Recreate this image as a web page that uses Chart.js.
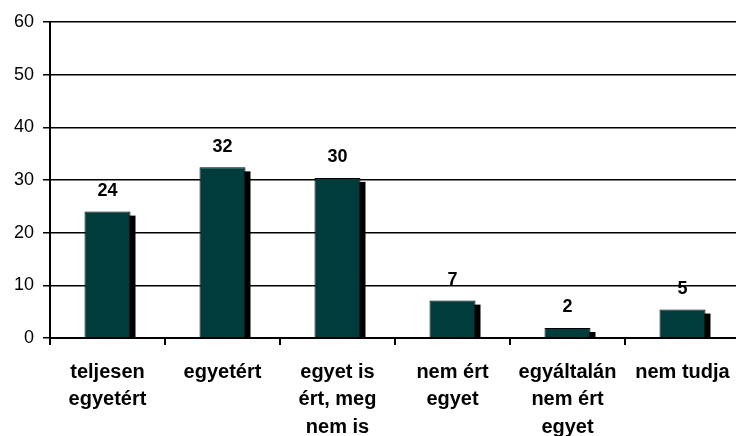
<!DOCTYPE html>
<html>
<head>
<meta charset="utf-8">
<script src="https://cdn.jsdelivr.net/npm/chart.js@4/dist/chart.umd.min.js"></script>
<style>
html,body{margin:0;padding:0;background:#fff;overflow:hidden;width:736px;height:436px;}
#wrap{position:absolute;left:0;top:0;width:750px;height:436px;}
</style>
</head>
<body>
<div id="wrap"><canvas id="c"></canvas></div>
<script>
const categories = [
  ['teljesen', 'egyetért'],
  ['egyetért'],
  ['egyet is', 'ért, meg', 'nem is'],
  ['nem ért', 'egyet'],
  ['egyáltalán', 'nem ért', 'egyet'],
  ['nem tudja']
];
const values = [24.0, 32.4, 30.4, 7.1, 1.9, 5.4];
const valueLabels = ['24', '32', '30', '7', '2', '5'];
const yTicks = [0, 10, 20, 30, 40, 50, 60];

const FONT = '"Liberation Sans", Arial, sans-serif';

const shadowPlugin = {
  id: 'shadow',
  beforeDatasetsDraw(chart) {
    const ctx = chart.ctx, a = chart.chartArea;
    ctx.save();
    ctx.beginPath();
    ctx.rect(a.left, a.top, a.right - a.left, a.bottom - a.top);
    ctx.clip();
    ctx.fillStyle = '#000';
    chart.getDatasetMeta(0).data.forEach(b => {
      const w = b.width;
      ctx.fillRect(b.x - w / 2 + 5, b.y + 4, w, b.base - b.y);
    });
    ctx.restore();
  },
  afterDatasetsDraw(chart) {
    const ctx = chart.ctx;
    ctx.save();
    ctx.font = 'bold 18px ' + FONT;
    ctx.fillStyle = '#000';
    ctx.textAlign = 'center';
    ctx.textBaseline = 'alphabetic';
    chart.getDatasetMeta(0).data.forEach((b, i) => {
      ctx.fillText(valueLabels[i], b.x, b.y - 15.5);
    });
    ctx.restore();
  }
};

new Chart(document.getElementById('c'), {
  type: 'bar',
  data: {
    labels: categories,
    datasets: [{
      data: values,
      backgroundColor: '#003c3c',
      borderColor: '#000',
      borderWidth: 1,
      barPercentage: 0.4,
      categoryPercentage: 1.0
    }]
  },
  options: {
    responsive: true,
    maintainAspectRatio: false,
    devicePixelRatio: 1,
    animation: false,
    layout: { padding: { left: 0, right: 10, top: 22, bottom: 0 } },
    plugins: { legend: { display: false }, tooltip: { enabled: false } },
    scales: {
      x: {
        offset: true,
        grid: { offset: true, drawOnChartArea: false, color: '#000', lineWidth: 2, tickLength: 7 },
        border: { color: '#000', width: 2 },
        ticks: { color: '#000', font: { family: FONT, size: 20, weight: 'bold', lineHeight: 1.36 }, padding: 14, maxRotation: 0, autoSkip: false },
        afterFit(s) { s.height = 98; }
      },
      y: {
        min: 0, max: 60,
        afterBuildTicks(s) { s.ticks = yTicks.map(v => ({ value: v })); },
        grid: { color: '#000', lineWidth: 1.5, tickLength: 7 },
        border: { color: '#000', width: 2 },
        ticks: { color: '#000', font: { family: FONT, size: 18 }, padding: 9 },
        afterFit(s) { s.width = 50; }
      }
    }
  },
  plugins: [shadowPlugin]
});
</script>
</body>
</html>
